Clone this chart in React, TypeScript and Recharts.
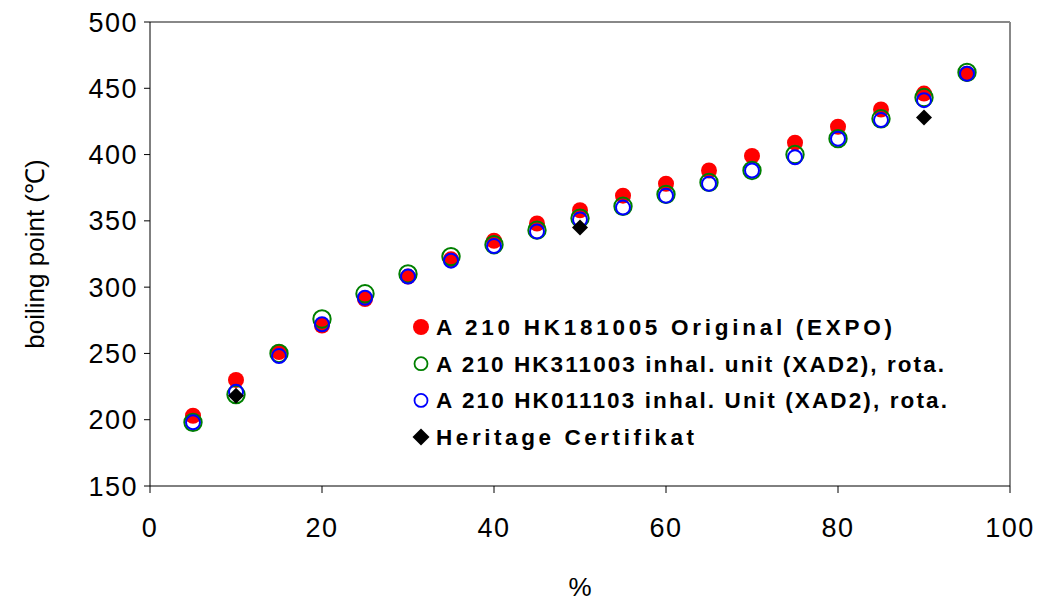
import React from 'react';
import { ScatterChart, Scatter, XAxis, YAxis, ReferenceLine, Label } from 'recharts';

const percents = [5, 10, 15, 20, 25, 30, 35, 40, 45, 50, 55, 60, 65, 70, 75, 80, 85, 90, 95];
const originalExpo = [203, 230, 251, 271, 291, 308, 321, 335, 348, 358, 369, 378, 388, 399, 409, 421, 434, 446, 461];
const inhalUnit311003 = [198, 219, 250, 276, 295, 310, 323, 332, 343, 352, 361, 370, 379, 388, 400, 412, 427, 443, 462];
const inhalUnit011103 = [198, 221, 248, 272, 292, 308, 320, 331, 342, 351, 360, 369, 378, 388, 398, 412, 426, 441, 461];
const heritagePercents = [10, 50, 90];
const heritageCertifikat = [218, 345, 428];

const xTicks = [0, 20, 40, 60, 80, 100];
const yTicks = [150, 200, 250, 300, 350, 400, 450, 500];

const seriesNames = [
  'A 210 HK181005 Original (EXPO)',
  'A 210 HK311003 inhal. unit (XAD2), rota.',
  'A 210 HK011103 inhal. Unit (XAD2), rota.',
  'Heritage Certifikat',
];

const toPoints = (xs: number[], ys: number[]) => xs.map((x, i) => ({ x, y: ys[i] }));

const dataOriginal = toPoints(percents, originalExpo);
const data311003 = toPoints(percents, inhalUnit311003);
const data011103 = toPoints(percents, inhalUnit011103);
const dataHeritage = toPoints(heritagePercents, heritageCertifikat);

const FONT = '"Liberation Sans", Arial, sans-serif';

const RedDot = (p: any) => <circle cx={p.cx} cy={p.cy} r={8} fill="#ff0000" />;
const GreenRing = (p: any) => <circle cx={p.cx} cy={p.cy} r={8.7} fill="none" stroke="#008000" strokeWidth={2} />;
const BlueRing = (p: any) => <circle cx={p.cx} cy={p.cy} r={7} fill="none" stroke="#0000ff" strokeWidth={2} />;
const Diamond = (p: any) => {
  const s = 8;
  return <polygon points={`${p.cx},${p.cy - s} ${p.cx + s},${p.cy} ${p.cx},${p.cy + s} ${p.cx - s},${p.cy}`} fill="#000" />;
};

const legendMarker = (i: number, cx: number, cy: number) => {
  if (i === 0) return <circle cx={cx} cy={cy} r={8} fill="#ff0000" />;
  if (i === 1) return <circle cx={cx} cy={cy} r={6.5} fill="none" stroke="#008000" strokeWidth={1.8} />;
  if (i === 2) return <circle cx={cx} cy={cy} r={6.5} fill="none" stroke="#0000ff" strokeWidth={1.8} />;
  const s = 8.5;
  return <polygon points={`${cx},${cy - s} ${cx + s},${cy} ${cx},${cy + s} ${cx - s},${cy}`} fill="#000" />;
};

const legendTextWidths = [456, 508, 511, 258];

const LegendBox = () => {
  const rowH = 36.7;
  return (
    <svg width={600} height={150} style={{ position: 'absolute', left: 410, top: 312, display: 'block' }}>
      {seriesNames.map((name, i) => {
        const cy = 15 + i * rowH;
        return (
          <g key={i}>
            {legendMarker(i, 11, cy)}
            <text
              x={26}
              y={cy + 8}
              fontFamily={FONT}
              fontSize={22.5}
              fontWeight="bold"
              textLength={legendTextWidths[i]}
              lengthAdjust="spacing"
              fill="#000"
            >
              {name}
            </text>
          </g>
        );
      })}
    </svg>
  );
};

const tickStyle = { fill: '#000', fontSize: 27, fontFamily: FONT, letterSpacing: 1.5 };

export default function App() {
  return (
    <div style={{ position: 'absolute', left: 0, top: 0, width: 1037, height: 603, background: '#fff' }}>
      <ScatterChart width={1037} height={603} margin={{ top: 22, right: 27, bottom: 57, left: 0 }}>
        <XAxis
          type="number"
          dataKey="x"
          domain={[0, 100]}
          ticks={xTicks}
          height={60}
          stroke="#000"
          tickSize={7}
          tickMargin={25}
          tick={tickStyle}
          tickLine={{ stroke: '#000' }}
          axisLine={{ stroke: '#000' }}
        >
          <Label
            content={(p: any) => {
              const vb = p.viewBox || {};
              return (
                <text x={vb.x + vb.width / 2} y={vb.y + 110} textAnchor="middle" fontFamily={FONT} fontSize={26} fill="#000">
                  %
                </text>
              );
            }}
          />
        </XAxis>
        <YAxis
          type="number"
          dataKey="y"
          domain={[150, 500]}
          ticks={yTicks}
          width={150}
          stroke="#000"
          tickSize={6}
          tickMargin={6}
          tick={tickStyle}
          tickLine={{ stroke: '#000' }}
          axisLine={{ stroke: '#000' }}
        >
          <Label
            content={(p: any) => {
              const vb = p.viewBox || {};
              const cx = vb.x + 35;
              const cy = vb.y + vb.height / 2;
              return (
                <text x={cx} y={cy} transform={`rotate(-90 ${cx} ${cy})`} textAnchor="middle" dominantBaseline="central" fontFamily={FONT} fontSize={26} fill="#000">
                  boiling point (℃)
                </text>
              );
            }}
          />
        </YAxis>
        <ReferenceLine y={500} stroke="#888" strokeWidth={2} ifOverflow="extendDomain" />
        <ReferenceLine x={100} stroke="#888" strokeWidth={2} ifOverflow="extendDomain" />
        <Scatter name={seriesNames[0]} data={dataOriginal} shape={RedDot} fill="#ff0000" isAnimationActive={false} />
        <Scatter name={seriesNames[1]} data={data311003} shape={GreenRing} fill="#008000" isAnimationActive={false} />
        <Scatter name={seriesNames[2]} data={data011103} shape={BlueRing} fill="#0000ff" isAnimationActive={false} />
        <Scatter name={seriesNames[3]} data={dataHeritage} shape={Diamond} fill="#000" isAnimationActive={false} />
      </ScatterChart>
      <LegendBox />
    </div>
  );
}
